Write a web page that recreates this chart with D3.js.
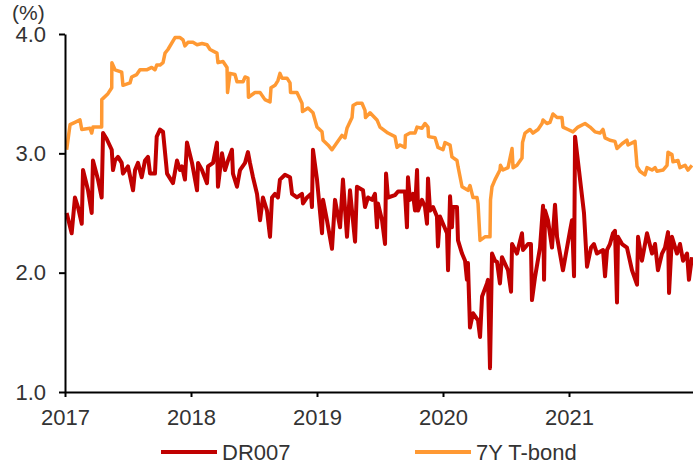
<!DOCTYPE html>
<html>
<head>
<meta charset="utf-8">
<script src="https://cdn.jsdelivr.net/npm/d3@7/dist/d3.min.js"></script>
<style>
    body { margin: 0; background: #fff; }
    svg { display: block; font-family: Arial, "Liberation Sans", sans-serif; }
    .axis path, .axis line { stroke: #000; stroke-width: 2; }
    .axis text { font-size: 22px; fill: #333; font-family: Arial, "Liberation Sans", sans-serif; }
    .legend text { font-size: 22px; fill: #333; }
</style>
</head>
<body>
<svg id="chart" width="693" height="466"></svg>
<script>
"use strict";

// time is in years after the start of 2017
const DR007_TIME = [
    0.013, 0.053, 0.079, 0.103, 0.133, 0.143, 0.183, 0.212, 0.222, 0.262, 0.291, 0.302, 0.331, 0.371, 0.381,
    0.397, 0.421, 0.450, 0.460, 0.500, 0.540, 0.556, 0.579, 0.609, 0.635, 0.659, 0.675, 0.714, 0.728, 0.754,
    0.778, 0.802, 0.810, 0.857, 0.889, 0.913, 0.929, 0.952, 0.968, 1.008, 1.048, 1.056, 1.087, 1.127, 1.135,
    1.175, 1.206, 1.214, 1.246, 1.270, 1.294, 1.325, 1.333, 1.365, 1.389, 1.429, 1.452, 1.468, 1.492, 1.524,
    1.548, 1.571, 1.603, 1.627, 1.643, 1.667, 1.690, 1.706, 1.746, 1.786, 1.802, 1.841, 1.881, 1.889, 1.921,
    1.952, 1.960, 1.968, 2.000, 2.040, 2.048, 2.079, 2.119, 2.143, 2.183, 2.206, 2.238, 2.262, 2.302, 2.317,
    2.365, 2.381, 2.405, 2.437, 2.460, 2.476, 2.484, 2.516, 2.540, 2.548, 2.563, 2.619, 2.643, 2.698, 2.714,
    2.722, 2.738, 2.762, 2.778, 2.794, 2.802, 2.833, 2.857, 2.873, 2.881, 2.897, 2.921, 2.952, 2.960, 2.976,
    3.000, 3.032, 3.040, 3.056, 3.071, 3.079, 3.111, 3.119, 3.151, 3.175, 3.190, 3.198, 3.214, 3.238, 3.278,
    3.294, 3.310, 3.349, 3.357, 3.373, 3.389, 3.413, 3.429, 3.452, 3.468, 3.516, 3.540, 3.548, 3.587, 3.627,
    3.635, 3.675, 3.698, 3.706, 3.730, 3.770, 3.794, 3.802, 3.810, 3.833, 3.865, 3.889, 3.905, 3.952, 4.008,
    4.024, 4.040, 4.048, 4.119, 4.143, 4.175, 4.198, 4.222, 4.270, 4.286, 4.302, 4.325, 4.349, 4.365, 4.381,
    4.389, 4.421, 4.460, 4.500, 4.540, 4.548, 4.579, 4.619, 4.659, 4.683, 4.706, 4.738, 4.762, 4.786, 4.794,
    4.817, 4.857, 4.881, 4.905, 4.937, 4.952, 4.976
];
const DR007_VALUES = [
    2.50, 2.33, 2.63, 2.55, 2.41, 2.86, 2.69, 2.50, 2.94, 2.78, 2.63, 3.17, 3.12, 3.03, 2.86,
    2.94, 2.97, 2.92, 2.83, 2.89, 2.69, 2.86, 2.92, 2.80, 2.94, 2.97, 2.83, 2.83, 3.14, 3.20,
    3.18, 2.92, 2.83, 2.75, 2.94, 2.86, 2.89, 2.78, 3.09, 2.92, 2.69, 2.92, 2.86, 2.75, 2.89,
    2.92, 3.09, 2.72, 3.00, 2.86, 2.94, 3.03, 2.83, 2.72, 2.86, 2.92, 3.01, 2.92, 2.80, 2.66,
    2.44, 2.63, 2.52, 2.30, 2.63, 2.66, 2.63, 2.78, 2.82, 2.80, 2.66, 2.63, 2.66, 2.58, 2.63,
    2.66, 2.55, 3.03, 2.78, 2.33, 2.61, 2.44, 2.20, 2.61, 2.38, 2.78, 2.30, 2.69, 2.26, 2.72,
    2.69, 2.55, 2.63, 2.61, 2.66, 2.38, 2.58, 2.44, 2.24, 2.83, 2.63, 2.65, 2.68, 2.68, 2.38,
    2.80, 2.61, 2.66, 2.52, 2.86, 2.52, 2.61, 2.55, 2.41, 2.79, 2.52, 2.55, 2.47, 2.22, 2.47,
    2.41, 2.33, 2.02, 2.64, 2.38, 2.55, 2.55, 2.27, 2.16, 2.10, 1.94, 2.08, 1.54, 1.66, 1.60,
    1.46, 1.80, 1.91, 1.94, 1.20, 2.16, 2.10, 2.09, 1.91, 2.13, 2.02, 1.84, 2.24, 2.16, 2.33,
    2.19, 2.24, 2.24, 1.77, 1.96, 2.21, 2.56, 1.94, 2.52, 2.44, 2.21, 2.57, 2.30, 2.02, 2.35,
    2.44, 1.97, 3.14, 2.50, 2.05, 2.21, 2.24, 2.16, 2.19, 1.97, 2.19, 2.24, 2.33, 2.35, 1.75,
    2.30, 2.24, 2.21, 2.02, 1.90, 2.30, 2.10, 2.33, 2.16, 2.24, 2.02, 2.16, 2.21, 2.34, 1.83,
    2.30, 2.16, 2.24, 2.10, 2.16, 1.94, 2.13
];

const BOND_TIME = [
    0.013, 0.040, 0.079, 0.119, 0.133, 0.198, 0.212, 0.222, 0.291, 0.292, 0.341, 0.371, 0.372, 0.397, 0.450,
    0.460, 0.516, 0.529, 0.569, 0.595, 0.648, 0.688, 0.714, 0.728, 0.754, 0.778, 0.794, 0.817, 0.873, 0.913,
    0.937, 0.952, 0.976, 1.016, 1.048, 1.087, 1.127, 1.151, 1.206, 1.214, 1.254, 1.286, 1.290, 1.310, 1.349,
    1.365, 1.413, 1.429, 1.452, 1.456, 1.508, 1.548, 1.587, 1.627, 1.635, 1.667, 1.690, 1.706, 1.722, 1.762,
    1.786, 1.790, 1.841, 1.881, 1.885, 1.929, 1.968, 2.000, 2.040, 2.048, 2.087, 2.119, 2.159, 2.198, 2.222,
    2.238, 2.278, 2.286, 2.317, 2.357, 2.381, 2.385, 2.421, 2.476, 2.500, 2.563, 2.619, 2.635, 2.659, 2.698,
    2.702, 2.738, 2.778, 2.794, 2.833, 2.857, 2.881, 2.885, 2.937, 2.960, 3.000, 3.016, 3.056, 3.071, 3.111,
    3.119, 3.151, 3.198, 3.214, 3.238, 3.270, 3.278, 3.294, 3.333, 3.373, 3.377, 3.389, 3.413, 3.452, 3.456,
    3.476, 3.516, 3.548, 3.556, 3.587, 3.627, 3.631, 3.651, 3.690, 3.714, 3.754, 3.786, 3.794, 3.825, 3.849,
    3.873, 3.905, 3.944, 3.952, 3.992, 4.032, 4.071, 4.127, 4.167, 4.206, 4.246, 4.270, 4.286, 4.325, 4.365,
    4.381, 4.421, 4.460, 4.468, 4.524, 4.540, 4.563, 4.603, 4.619, 4.659, 4.683, 4.698, 4.746, 4.778, 4.786,
    4.817, 4.825, 4.865, 4.881, 4.921, 4.944, 4.976
];
const BOND_VALUES = [
    3.03, 3.24, 3.26, 3.28, 3.20, 3.21, 3.17, 3.22, 3.22, 3.45, 3.50, 3.55, 3.76, 3.70, 3.68,
    3.57, 3.59, 3.64, 3.66, 3.70, 3.70, 3.72, 3.70, 3.74, 3.74, 3.76, 3.84, 3.87, 3.97, 3.97,
    3.95, 3.90, 3.93, 3.93, 3.91, 3.92, 3.91, 3.87, 3.84, 3.76, 3.77, 3.72, 3.51, 3.67, 3.66,
    3.60, 3.60, 3.64, 3.63, 3.47, 3.51, 3.51, 3.45, 3.43, 3.55, 3.57, 3.61, 3.67, 3.63, 3.63,
    3.59, 3.51, 3.51, 3.42, 3.35, 3.38, 3.34, 3.22, 3.18, 3.11, 3.07, 3.03, 3.09, 3.15, 3.13,
    3.21, 3.30, 3.40, 3.42, 3.42, 3.36, 3.30, 3.34, 3.28, 3.22, 3.17, 3.14, 3.05, 3.07, 3.05,
    3.15, 3.17, 3.17, 3.22, 3.21, 3.25, 3.22, 3.14, 3.13, 3.05, 3.03, 3.09, 3.07, 2.97, 2.94,
    2.89, 2.72, 2.69, 2.73, 2.63, 2.63, 2.58, 2.27, 2.30, 2.30, 2.61, 2.72, 2.78, 2.86, 2.90,
    2.86, 2.88, 3.04, 2.88, 2.90, 2.96, 3.09, 3.17, 3.20, 3.17, 3.20, 3.25, 3.28, 3.25, 3.26,
    3.33, 3.30, 3.30, 3.22, 3.20, 3.18, 3.22, 3.25, 3.22, 3.18, 3.17, 3.20, 3.13, 3.11, 3.10,
    3.04, 3.08, 3.11, 3.07, 3.10, 2.89, 2.85, 2.82, 2.88, 2.86, 2.88, 2.85, 2.86, 2.90, 3.01,
    2.99, 2.93, 2.94, 2.88, 2.90, 2.86, 2.90
];

const START_YEAR = 2017;
const YEAR_TICKS = [2017, 2018, 2019, 2020, 2021];
const VALUE_TICKS = [1.0, 2.0, 3.0, 4.0];
const SERIES_NAMES = ['DR007', '7Y T-bond'];
const SERIES_COLORS = ['#c00000', '#ff9933'];

const svg = d3.select('#chart');

const x = d3.scaleLinear().domain([2017, 2022]).range([65, 695]);
const y = d3.scaleLinear().domain([1, 4]).range([392, 34]);

const series = [
    { name: SERIES_NAMES[0], color: SERIES_COLORS[0], width: 4,
      points: DR007_TIME.map((t, i) => [START_YEAR + t, DR007_VALUES[i]]) },
    { name: SERIES_NAMES[1], color: SERIES_COLORS[1], width: 3.5,
      points: BOND_TIME.map((t, i) => [START_YEAR + t, BOND_VALUES[i]]) },
];

const line = d3.line().x(d => x(d[0])).y(d => y(d[1]));

for (const s of series) {
    svg.append('path')
        .datum(s.points)
        .attr('fill', 'none')
        .attr('stroke', s.color)
        .attr('stroke-width', s.width)
        .attr('stroke-linejoin', 'round')
        .attr('d', line);
}

// axes
svg.append('g')
    .attr('class', 'axis')
    .attr('transform', 'translate(0,392)')
    .call(d3.axisBottom(x).tickValues(YEAR_TICKS).tickFormat(d3.format('d'))
        .tickSize(5).tickSizeOuter(0).tickPadding(12));

svg.append('g')
    .attr('class', 'axis')
    .attr('transform', 'translate(65,0)')
    .call(d3.axisLeft(y).tickValues(VALUE_TICKS).tickFormat(d3.format('.1f'))
        .tickSize(6).tickSizeOuter(0).tickPadding(13));

svg.append('text')
    .attr('x', 12)
    .attr('y', 20)
    .style('font-size', '21px')
    .style('fill', '#333')
    .text('(%)');

// legend
const legendX = [161, 415];
const legend = svg.append('g').attr('class', 'legend');
series.forEach((s, i) => {
    legend.append('line')
        .attr('x1', legendX[i]).attr('x2', legendX[i] + 56)
        .attr('y1', 452).attr('y2', 452)
        .attr('stroke', s.color)
        .attr('stroke-width', 4);
    legend.append('text')
        .attr('x', legendX[i] + 61)
        .attr('y', 452)
        .attr('dy', '0.35em')
        .text(s.name);
});
</script>
</body>
</html>
